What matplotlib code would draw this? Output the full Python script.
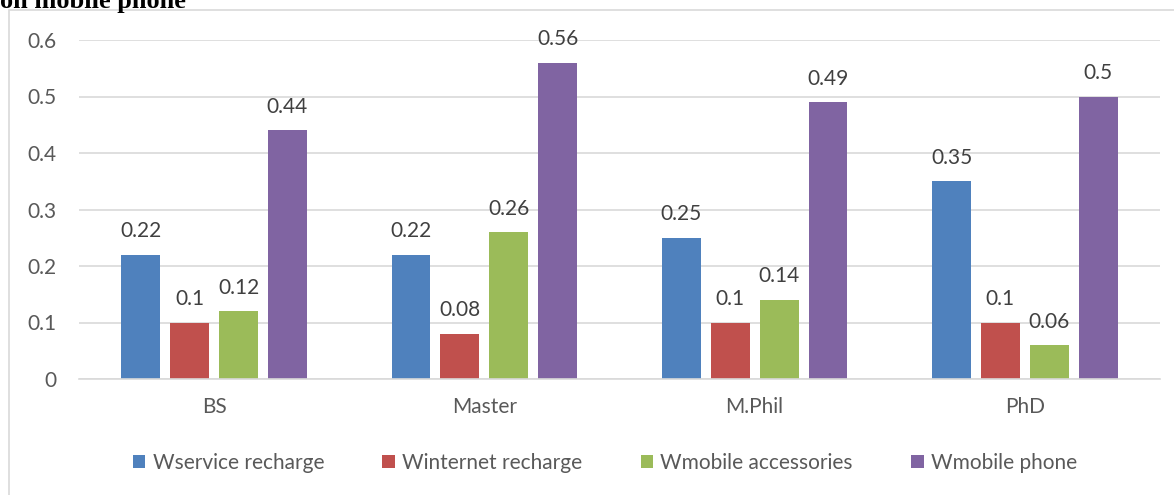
import matplotlib
matplotlib.use("Agg")
import matplotlib.pyplot as plt
from matplotlib.patches import Rectangle
import numpy as np

plt.rcParams["font.family"] = ["Lato", "DejaVu Sans"]

categories = ["BS", "Master", "M.Phil", "PhD"]
series_names = ["Wservice recharge", "Winternet recharge", "Wmobile accessories", "Wmobile phone"]
service = [0.22, 0.22, 0.25, 0.35]
internet = [0.10, 0.08, 0.10, 0.10]
accessories = [0.12, 0.26, 0.14, 0.06]
phone = [0.44, 0.56, 0.49, 0.50]
colors = ["#4f81bd", "#c0504d", "#9bbb59", "#8064a2"]
yticks = [0, 0.1, 0.2, 0.3, 0.4, 0.5, 0.6]

W, H = 1174, 495
fig = plt.figure(figsize=(W / 100, H / 100), dpi=100)
txt = "#595959"

# chart border (left + top visible)
fig.add_artist(Rectangle((9 / W, -0.1), 1.2, 1 - 10 / H + 0.1, transform=fig.transFigure,
                         fill=False, edgecolor="#d9d9d9", lw=1.2))
fig.text(0, 1 - 8 / H, "on mobile phone", family="Liberation Serif", weight="bold",
         fontsize=19, va="baseline", ha="left", color="black")

ax = fig.add_axes([79 / W, 1 - 379 / H, (1160 - 79) / W, (379 - 40) / H])
x = np.arange(len(categories))
step, width = 0.181, 0.144
for i, (vals, name) in enumerate(zip([service, internet, accessories, phone], series_names)):
    pos = x + (i - 1.5) * step
    bars = ax.bar(pos, vals, width, color=colors[i], label=name, zorder=2)
    for b, v in zip(bars, vals):
        ax.text(b.get_x() + b.get_width() / 2, v + 0.024, f"{v:g}", ha="center", va="bottom",
                fontsize=15, color="#404040")

ax.set_xlim(-0.5, len(categories) - 0.5)
ax.set_ylim(0, 0.6)
ax.set_yticks(yticks)
ax.set_yticklabels([f"{t:g}" for t in yticks])
ax.set_xticks(x)
ax.set_xticklabels(categories)
ax.tick_params(length=0, labelsize=15, colors=txt)
ax.tick_params(axis="y", pad=16)
ax.tick_params(axis="x", pad=13)
ax.grid(axis="y", color="#d9d9d9", lw=1.2, zorder=0)
for s in ["top", "right", "left"]:
    ax.spines[s].set_visible(False)
ax.spines["bottom"].set_color("#d9d9d9")
ax.spines["bottom"].set_linewidth(1.2)

fig.legend(loc="center", bbox_to_anchor=(605 / W, 1 - 463 / H), ncol=4, frameon=False,
           fontsize=15, handlelength=0.6, handleheight=0.6, handletextpad=0.35,
           columnspacing=2.8, labelcolor=txt)

fig.savefig("out.png", dpi=100)
